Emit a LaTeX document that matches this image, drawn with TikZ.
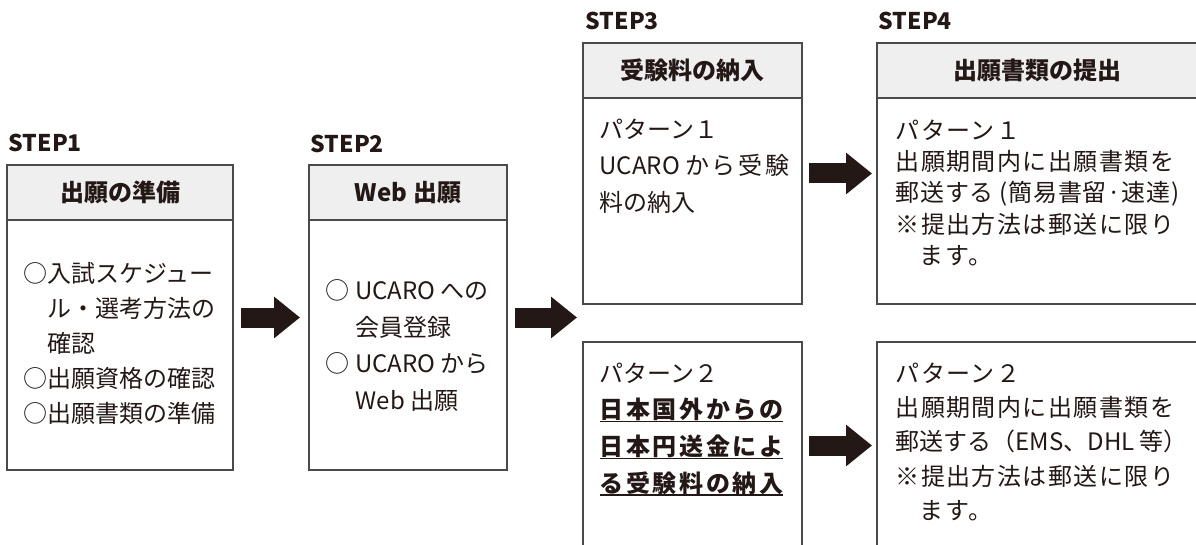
\documentclass[tikz,border=0pt]{standalone}
\usepackage{fontspec}
\setmainfont{Noto Sans CJK JP}
\usepackage{tikz}
\usetikzlibrary{arrows.meta}

\definecolor{ink}{HTML}{231815}
\definecolor{frame}{HTML}{4A4A4A}
\definecolor{headgray}{HTML}{EFEFEF}

% bold, spaced and underlined line
\newcommand{\ulbold}[1]{\setbox0\hbox{\bfseries\addfontfeature{LetterSpace=11}#1}\rlap{\rule[-3.5pt]{\wd0}{1.4pt}}\box0}

\begin{document}
\begin{tikzpicture}[x=1pt, y=-1pt, line width=1.3pt,
  box/.style={draw=frame, inner sep=0, outer sep=0, anchor=north west},
  headbox/.style={box, fill=headgray, minimum height=55pt, text=ink, font=\fontsize{24}{24}\selectfont\bfseries},
  stepname/.style={anchor=base west, inner sep=0, text=ink, font=\fontsize{23}{23}\selectfont\bfseries},
  bodytext/.style={anchor=north west, inner sep=0, align=left, text=ink},
  bigarrow/.style={draw=ink, line width=20pt, -{Triangle[length=26pt, width=40pt]}}]

\clip (0,0) rectangle (1196,545);

% draw step labels
\node[stepname] (s1) at (8,152) {STEP1};
\node[stepname] (s2) at (310,153) {STEP2};
\node[stepname] (s3) at (585,30) {STEP3};
\node[stepname] (s4) at (878,30) {STEP4};

% draw boxes
\node[box, minimum width=226pt, minimum height=305pt] (b1) at (7,165) {};
\node[box, minimum width=198pt, minimum height=305pt] (b2) at (309,165) {};
\node[box, minimum width=219pt, minimum height=261pt] (b3a) at (583,43) {};
\node[box, minimum width=219pt, minimum height=207pt] (b3b) at (583,342) {};
\node[box, minimum width=320pt, minimum height=261pt] (b4a) at (877,43) {};
\node[box, minimum width=320pt, minimum height=207pt] (b4b) at (877,342) {};

% draw headers
\node[headbox, minimum width=226pt] (h1) at (7,165) {出願の準備};
\node[headbox, minimum width=198pt] (h2) at (309,165) {Web 出願};
\node[headbox, minimum width=219pt] (h3) at (583,43) {受験料の納入};
\node[headbox, minimum width=320pt] (h4) at (877,43) {出願書類の提出};

% draw box texts
\node[bodytext, font=\fontsize{24}{35}\selectfont] (t1) at (23,262)
  {○入試スケジュー\\\hspace*{1em}ル・選考方法の\\\hspace*{1em}確認\\○出願資格の確認\\○出願書類の準備};
\node[bodytext, font=\fontsize{24}{36.7}\selectfont] (t2) at (325,279)
  {○ UCARO への\\\hspace*{30pt}会員登録\\○ UCARO から\\\hspace*{30pt}Web 出願};
\node[bodytext, font=\fontsize{24}{36.5}\selectfont] (t3a) at (599,118)
  {パターン１\\UCARO {\addfontfeature{LetterSpace=11}から受験}\\料の納入};
\node[bodytext, font=\fontsize{24}{36.7}\selectfont] (t3b) at (599,362)
  {パターン２\\\ulbold{日本国外からの}\\\ulbold{日本円送金によ}\\\ulbold{る受験料の納入}};
\node[bodytext, font=\fontsize{24}{31.3}\selectfont\addfontfeature{LetterSpace=6}] (t4a) at (895,119)
  {パターン１\\出願期間内に出願書類を\\{\addfontfeature{LetterSpace=3}郵送する (簡易書留·速達)}\\※提出方法は郵送に限り\\\hspace*{1em}ます。};
\node[bodytext, font=\fontsize{24}{34.3}\selectfont\addfontfeature{LetterSpace=6}] (t4b) at (895,362)
  {パターン２\\出願期間内に出願書類を\\{\addfontfeature{LetterSpace=0}郵送する（EMS、DHL 等）}\\※提出方法は郵送に限り\\\hspace*{1em}ます。};

% draw block arrows
\draw[bigarrow, shorten <=8pt, shorten >=9pt] (b1) -- (b2);
\draw[bigarrow, shorten <=8pt, shorten >=6pt] (b2.east) -- (b2.east -| b3a.west);
\draw[bigarrow, shorten <=7pt, shorten >=5pt] (b3a) -- (b4a);
\draw[bigarrow, shorten <=7pt, shorten >=5pt] (b3b) -- (b4b);

\end{tikzpicture}
\end{document}
